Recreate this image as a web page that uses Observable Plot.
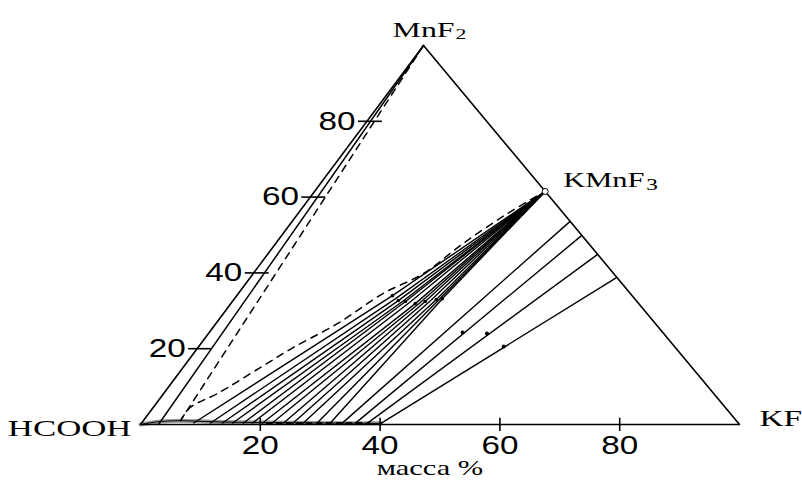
<!DOCTYPE html>
<html>
<head>
<meta charset="utf-8">
<script src="https://cdn.jsdelivr.net/npm/d3@7"></script>
<script src="https://cdn.jsdelivr.net/npm/@observablehq/plot@0.6"></script>
<style>
  html, body { margin: 0; padding: 0; background: #fff; overflow: hidden; }
  #chart svg { display: block; }
</style>
</head>
<body>
<div id="chart"></div>
<script>
// Ternary system HCOOH – KF – MnF2, compositions in mass % (KF, MnF2)
const vertices = [
  {name: "HCOOH", kf: 0, mn: 0},
  {name: "KF", kf: 100, mn: 0},
  {name: "MnF2", kf: 0, mn: 100}
];
const compound = {name: "KMnF3", kf: 38.5, mn: 61.5};

// liquid branch (close to the HCOOH–KF side)
const liquidKF = [0, 3, 6.2, 12, 20, 30, 40];
const liquidMn = [0, 0.8, 1.0, 0.7, 0.5, 0.4, 0.3];

// tie lines to KMnF3: liquid end (KF %) and wet residue (KF %, MnF2 %)
const fanKF = [8.7, 11.5, 13.5, 15.2, 17.0, 18.5, 20.2, 21.8, 23.7, 25.3, 27.0, 29.3, 31.5];
const fanResKF = [26.0, 26.9, 27.6, 28.4, 28.9, 29.7, 30.8, 31.5, 32.2, 33.0, 33.8, 34.3, 34.7];
const fanResMn = [34.0, 33.2, 32.7, 32.45, 32.45, 32.2, 31.9, 32.2, 32.45, 32.7, 33.0, 33.1, 33.2];

// tie lines from the KMnF3–KF side: solid end (MnF2 %) and liquid end (KF %)
const edgeMn = [53.6, 49.9, 44.9, 38.8];
const edgeLiquidKF = [33.5, 35.7, 37.7, 40.0];

// dashed boundary from the liquid branch up to KMnF3
const boundaryKF = [6.2, 6.2, 9.0, 12.9, 15.9, 20.3, 24.2, 28.4, 31.3, 35.0, 38.5];
const boundaryMn = [1.0, 4.5, 8.2, 15.0, 20.3, 26.6, 34.6, 39.8, 47.8, 55.7, 61.5];

// lines near the HCOOH–MnF2 side
const innerSolidBaseKF = 3.0;
const innerDashedBase = {kf: 6.2, mn: 1.0};

// residues on the KMnF3–KF tie lines
const residueKF = [42.3, 46.5, 50.9];
const residueMn = [24.3, 24.0, 20.6];

// axis ticks (mass %)
const ticks = [20, 40, 60, 80];

// ternary projection: x runs along HCOOH→KF, y is the MnF2 content
const SKEW = 0.4725;
const px = (kf, mn) => kf + SKEW * mn;
const pt = (kf, mn) => ({x: px(kf, mn), y: mn});

const triangle = [...vertices, vertices[0]].map(d => pt(d.kf, d.mn));
const liquid = liquidKF.map((k, i) => pt(k, liquidMn[i]));
const K = pt(compound.kf, compound.mn);
const M = pt(0, 100);
const fan = fanKF.map((k, i) => [pt(k, 0.4), pt(fanResKF[i], fanResMn[i]), K]);
const fanRes = fanKF.map((k, i) => pt(fanResKF[i], fanResMn[i])).filter((d, i) => i % 2 === 0);
const edgeLines = edgeMn.map((m, i) => ({x1: px(100 - m, m), y1: m, x2: px(edgeLiquidKF[i], 0.3), y2: 0.3}));
const boundary = boundaryKF.map((k, i) => pt(k, boundaryMn[i]));
const residues = residueKF.map((k, i) => pt(k, residueMn[i]));

const bottomTicks = ticks.map(v => ({x: v, y1: -1.7, y2: 1.8}));
const leftTicks = ticks.map(v => ({x1: px(0, v) - 1.5, x2: px(0, v) + 2.5, y: v}));

const serif = "Liberation Serif, Times New Roman, serif";
const sans = "Liberation Sans, Arial, sans-serif";

const chart = Plot.plot({
  width: 802,
  height: 482,
  marginLeft: 140,
  marginRight: 63,
  marginTop: 45,
  marginBottom: 58,
  x: {domain: [0, 100], axis: null},
  y: {domain: [0, 100], axis: null},
  marks: [
    // liquid branch along the base
    Plot.line(liquid, {x: "x", y: "y", stroke: "#999", strokeWidth: 4, curve: "monotone-x"}),
    Plot.line([pt(21, 0.3), pt(38, 0.3)], {x: "x", y: "y", stroke: "#000", strokeWidth: 2.5, strokeDasharray: "4,6"}),
    // triangle
    Plot.line(triangle, {x: "x", y: "y", stroke: "#000", strokeWidth: 1.6}),
    Plot.line(liquid, {x: "x", y: "y", stroke: "#000", strokeWidth: 1, curve: "monotone-x"}),
    // lines near the HCOOH–MnF2 side
    Plot.line([M, pt(innerSolidBaseKF, 0)], {x: "x", y: "y", stroke: "#000", strokeWidth: 1.5}),
    Plot.line([M, pt(innerDashedBase.kf, innerDashedBase.mn)], {x: "x", y: "y", stroke: "#000", strokeWidth: 1.5, strokeDasharray: "7,6"}),
    // dashed boundary to KMnF3
    Plot.line(boundary, {x: "x", y: "y", stroke: "#000", strokeWidth: 1.5, strokeDasharray: "7,6", curve: "catmull-rom"}),
    // tie lines through the wet residues to KMnF3
    ...fan.map(seg => Plot.line(seg, {x: "x", y: "y", stroke: "#000", strokeWidth: 1.4})),
    Plot.dot(fanRes, {x: "x", y: "y", r: 1.8, fill: "#000"}),
    Plot.link(edgeLines, {x1: "x1", y1: "y1", x2: "x2", y2: "y2", stroke: "#000", strokeWidth: 1.4}),
    Plot.dot(residues, {x: "x", y: "y", r: 2, fill: "#000"}),
    Plot.dot([K], {x: "x", y: "y", r: 3, stroke: "#000", fill: "#fff", strokeWidth: 1}),
    // ticks
    Plot.link(bottomTicks, {x1: "x", x2: "x", y1: "y1", y2: "y2", stroke: "#000", strokeWidth: 1.6}),
    Plot.link(leftTicks, {x1: "x1", x2: "x2", y1: "y", y2: "y", stroke: "#000", strokeWidth: 1.6}),
    Plot.text(ticks, {x: d => d, y: 0, text: d => String(d), dy: 21, fontFamily: sans, fontSize: 26, fill: "#000"}),
    Plot.text(ticks, {x: d => px(0, d) - 1.9, y: d => d, text: d => String(d), textAnchor: "end", fontFamily: sans, fontSize: 26, fill: "#000"}),
    // component labels
    Plot.text(["HCOOH"], {x: 0, y: 0, text: d => d, textAnchor: "end", dx: -9, dy: 4, fontFamily: serif, fontSize: 24, fill: "#000"}),
    Plot.text(["KF"], {x: 100, y: 0, text: d => d, textAnchor: "start", dx: 20, dy: -6, fontFamily: serif, fontSize: 23, fill: "#000"}),
    Plot.text(["MnF"], {x: M.x, y: 100, text: d => d, textAnchor: "start", dx: -31, dy: -16, fontFamily: serif, fontSize: 22, fill: "#000"}),
    Plot.text(["2"], {x: M.x, y: 100, text: d => d, textAnchor: "start", dx: 32, dy: -11, fontFamily: serif, fontSize: 15, fill: "#000"}),
    Plot.text(["KMnF"], {x: K.x, y: K.y, text: d => d, textAnchor: "start", dx: 18, dy: -11, fontFamily: serif, fontSize: 21, fill: "#000"}),
    Plot.text(["3"], {x: K.x, y: K.y, text: d => d, textAnchor: "start", dx: 101, dy: -6.5, fontFamily: serif, fontSize: 16, fill: "#000"}),
    Plot.text(["масса %"], {x: 50, y: 0, text: d => d, dx: -10, dy: 44, fontFamily: serif, fontSize: 21, fill: "#000"})
  ]
});

// the lettering of this diagram is set wide: stretch every label horizontally about its anchor
chart.querySelectorAll("g[font-family]").forEach(g => {
  const s = g.getAttribute("font-family").includes("Serif") ? 1.45 : 1.28;
  g.querySelectorAll("text").forEach(t => {
    t.setAttribute("transform", (t.getAttribute("transform") || "") + ` scale(${s},1)`);
  });
});

document.getElementById("chart").append(chart);
</script>
</body>
</html>
